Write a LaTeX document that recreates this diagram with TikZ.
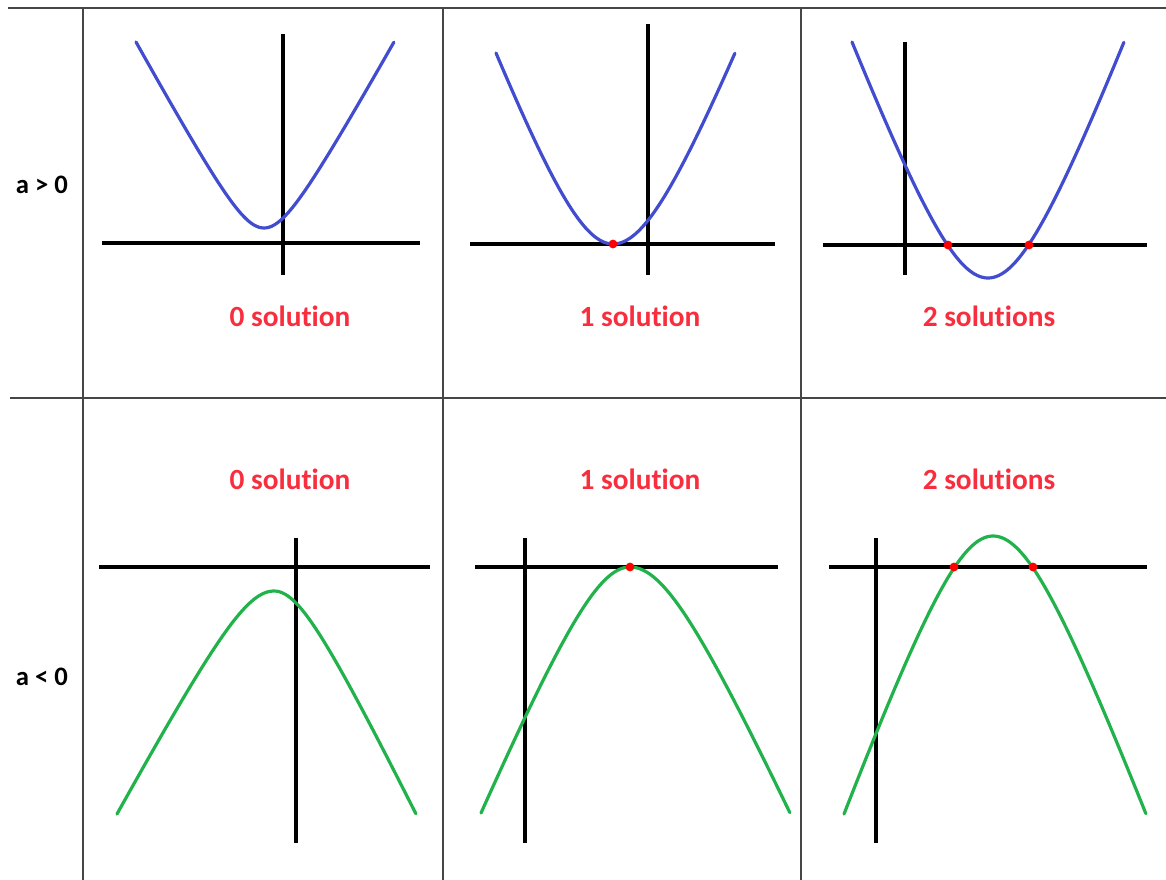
\documentclass[tikz,border=0pt]{standalone}
\usepackage{fontspec}
\setmainfont{Carlito}[Ligatures=NoCommon]

\definecolor{curveblue}{RGB}{66,76,206}
\definecolor{curvegreen}{RGB}{34,178,76}
\definecolor{solred}{RGB}{248,46,62}
\definecolor{rulegray}{RGB}{70,70,70}

% style, vertex x, vertex y, left width, right width, height, roundness
\newcommand{\drawparab}[7]{%
	\draw[#1] plot[domain=-1:1, samples=101, variable=\t] ({#2+(\t<0 ? #4 : #5)*\t}, {#3+#6*(sqrt(\t*\t+#7*#7)-#7)/(sqrt(1+#7*#7)-#7)});
}

\begin{document}
\begin{tikzpicture}[x=0.75pt,y=-0.75pt]
		\tikzstyle{every node}=[font=\bfseries\fontsize{22pt}{26pt}\selectfont]
		\tikzstyle{tablerule}=[line width=1.1pt, rulegray]
		\tikzstyle{axline}=[line width=3pt]
		\tikzstyle{posparab}=[line width=2.4pt, curveblue, line cap=round]
		\tikzstyle{negparab}=[line width=2.4pt, curvegreen, line cap=round]
		\tikzstyle{rootdot}=[red]
		\tikzstyle{sollabel}=[text=solred]
		\tikzstyle{signlabel}=[font=\bfseries\fontsize{20pt}{24pt}\selectfont]
		
		\useasboundingbox (0,0) rectangle (1166,880);
		
		% table
		\draw[tablerule] (8,8) -- (1166,8);
		\draw[tablerule] (10,398) -- (1166,398);
		\draw[tablerule] (83,8) -- (83,880);
		\draw[tablerule] (443,8) -- (443,880);
		\draw[tablerule] (801,8) -- (801,880);
		
		\node[signlabel] (apos) at (42,185) {a > 0};
		\node[signlabel] (aneg) at (42,677) {a < 0};
		
		% a > 0
		\draw[axline] (102,243) -- (420,243);
		\draw[axline] (283,34) -- (283,275);
		\drawparab{posparab}{264}{228}{128}{130}{-186}{0.23}
		
		\draw[axline] (470,244) -- (775,244);
		\draw[axline] (648,24) -- (648,275);
		\drawparab{posparab}{613}{244}{117}{122}{-191}{0.5}
		\fill[rootdot] (613,244) circle (3.3pt);
		
		\draw[axline] (823,245) -- (1147,245);
		\draw[axline] (905,42) -- (905,275);
		\drawparab{posparab}{988}{278}{136}{136}{-236}{0.44}
		\fill[rootdot] (948,245) circle (3.3pt);
		\fill[rootdot] (1029,245) circle (3.3pt);
		
		\node[sollabel] (topzero) at (290,316) {0 solution};
		\node[sollabel] (topone) at (640,316) {1 solution};
		\node[sollabel] (toptwo) at (989,316) {2 solutions};
		
		% a < 0
		\draw[axline] (99,567) -- (430,567);
		\draw[axline] (296,538) -- (296,843);
		\drawparab{negparab}{274}{591}{157}{142}{223}{0.27}
		
		\draw[axline] (475,567) -- (778,567);
		\draw[axline] (525,538) -- (525,843);
		\drawparab{negparab}{630}{567}{149}{160}{246}{0.37}
		\fill[rootdot] (630,567) circle (3.3pt);
		
		\draw[axline] (829,567) -- (1147,567);
		\draw[axline] (876,538) -- (876,843);
		\drawparab{negparab}{993}{536}{149}{153}{278}{0.4}
		\fill[rootdot] (954,567) circle (3.3pt);
		\fill[rootdot] (1033,567) circle (3.3pt);
		
		\node[sollabel] (botzero) at (290,479) {0 solution};
		\node[sollabel] (botone) at (640,479) {1 solution};
		\node[sollabel] (bottwo) at (989,479) {2 solutions};
		
\end{tikzpicture}
\end{document}
